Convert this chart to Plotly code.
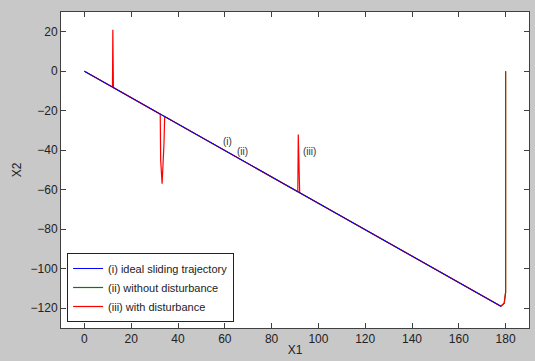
import plotly.graph_objects as go

# Ideal sliding trajectory (i)
ideal_x = [0, 178]
ideal_y = [0, -119]
# Without disturbance (ii)
nodist_x = [180, 180, 179.4, 178, 0]
nodist_y = [0, -112, -117.5, -119, 0]
# With disturbance (iii)
dist_x = [180, 180, 179.4, 178, 92.0, 91.7, 91.4, 91.2, 34.3, 34.0, 33.2, 32.6, 32.4,
          12.4, 12.25, 12.15, 12.0, 0]
dist_y = [0, -112, -117.5, -119, -61.5, -32, -32, -61.0, -22.9, -37, -57, -45, -21.7,
          -8.3, 9, 21, -8.0, 0]

x_ticks = [0, 20, 40, 60, 80, 100, 120, 140, 160, 180]
y_ticks = [20, 0, -20, -40, -60, -80, -100, -120]

labels = ["(i)", "(ii)", "(iii)"]
label_x = [61, 67.5, 96]
label_y = [-35.5, -40.5, -40.5]

font = "Liberation Sans, Arial, sans-serif"

fig = go.Figure()
fig.add_trace(go.Scatter(x=nodist_x, y=nodist_y, mode="lines", line=dict(color="#008000", width=1.2),
                         name="(ii) without disturbance", legendrank=2))
fig.add_trace(go.Scatter(x=dist_x, y=dist_y, mode="lines", line=dict(color="#ff0000", width=1.2),
                         name="(iii) with disturbance", legendrank=3))
fig.add_trace(go.Scatter(x=ideal_x, y=ideal_y, mode="lines", line=dict(color="#0000ff", width=1),
                         name="(i) ideal sliding trajectory", legendrank=1))

for t, lx, ly in zip(labels, label_x, label_y):
    fig.add_annotation(x=lx, y=ly, text=t, showarrow=False,
                       font=dict(family=font, size=10, color="#333333"))

axis_common = dict(showgrid=False, zeroline=False, showline=True, linecolor="#404040", linewidth=1,
                   mirror="ticks", ticks="inside", ticklen=5, tickcolor="#404040",
                   tickfont=dict(family=font, size=12, color="#222222"))

fig.update_xaxes(range=[-10, 190], tickvals=x_ticks,
                 title=dict(text="X1", font=dict(family=font, size=12, color="#222222"), standoff=0),
                 **axis_common)
fig.update_yaxes(range=[-130, 30], tickvals=y_ticks,
                 title=dict(text="X2", font=dict(family=font, size=12, color="#222222"), standoff=6),
                 **axis_common)

fig.update_layout(
    width=535, height=361,
    margin=dict(l=61, r=6, t=12, b=33),
    paper_bgcolor="#c8c8c8", plot_bgcolor="white",
    showlegend=True,
    legend=dict(x=0.013, y=0.019, xanchor="left", yanchor="bottom",
                bgcolor="white", bordercolor="#222222", borderwidth=1,
                traceorder="normal", tracegroupgap=0, itemwidth=30,
                font=dict(family=font, size=11, color="#222222")),
)

fig.write_html("out.html")
